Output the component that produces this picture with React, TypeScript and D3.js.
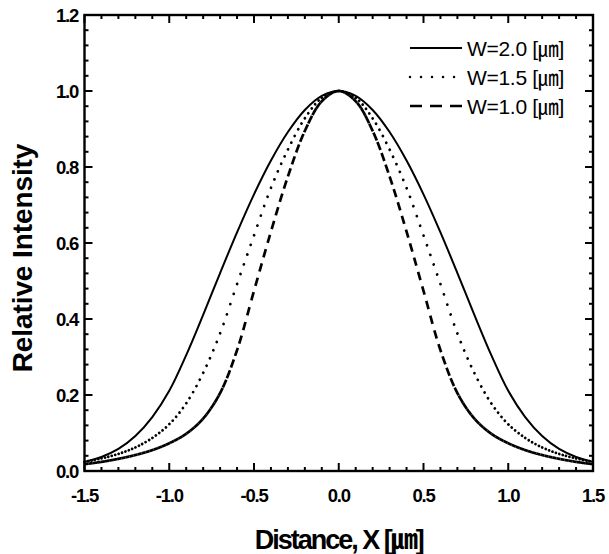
import React, { useEffect, useRef } from "react";
import * as d3 from "d3";

const xPositions = [
  -1.5, -1.4, -1.3, -1.2, -1.1, -1.0, -0.9, -0.8, -0.7, -0.6, -0.5, -0.4, -0.3, -0.2, -0.1,
  0.0, 0.1, 0.2, 0.3, 0.4, 0.5, 0.6, 0.7, 0.8, 0.9, 1.0, 1.1, 1.2, 1.3, 1.4, 1.5,
];
const w20 = [
  0.024, 0.037, 0.058, 0.092, 0.142, 0.211, 0.305, 0.411, 0.521, 0.628, 0.728, 0.817, 0.892, 0.95, 0.987,
  1.0, 0.987, 0.95, 0.892, 0.817, 0.728, 0.628, 0.521, 0.411, 0.305, 0.211, 0.142, 0.092, 0.058, 0.037, 0.024,
];
const w15 = [
  0.024, 0.033, 0.045, 0.062, 0.087, 0.123, 0.178, 0.258, 0.362, 0.492, 0.62, 0.745, 0.846, 0.928, 0.982,
  1.0, 0.982, 0.928, 0.846, 0.745, 0.62, 0.492, 0.362, 0.258, 0.178, 0.123, 0.087, 0.062, 0.045, 0.033, 0.024,
];
const w10 = [
  0.018, 0.024, 0.032, 0.042, 0.055, 0.073, 0.098, 0.138, 0.205, 0.318, 0.474, 0.63, 0.775, 0.895, 0.973,
  1.0, 0.973, 0.895, 0.775, 0.63, 0.474, 0.318, 0.205, 0.138, 0.098, 0.073, 0.055, 0.042, 0.032, 0.024, 0.018,
];
const xTicks = [-1.5, -1.0, -0.5, 0.0, 0.5, 1.0, 1.5];
const yTicks = [0.0, 0.2, 0.4, 0.6, 0.8, 1.0, 1.2];
const legendLabels = ["W=2.0 [\u339B]", "W=1.5 [\u339B]", "W=1.0 [\u339B]"];
const xTitle = "Distance, X [\u339B]";
const yTitle = "Relative Intensity";

const FONT = "'Liberation Sans', Arial, 'Noto Sans CJK JP', sans-serif";

export default function App() {
  const ref = useRef<SVGSVGElement>(null);

  useEffect(() => {
    const svg = d3.select(ref.current);
    svg.selectAll("*").remove();
    const L = 84.5, R = 593, T = 15, B = 471;
    const x = d3.scaleLinear().domain([-1.5, 1.5]).range([L, R]);
    const y = d3.scaleLinear().domain([0, 1.2]).range([B, T]);

    svg.append("rect").attr("width", 609).attr("height", 554).attr("fill", "#fff");

    const line = d3
      .line<number>()
      .x((_, i) => x(xPositions[i]))
      .y((d) => y(d))
      .curve(d3.curveCatmullRom.alpha(0.5));

    const plot = svg.append("g");

    plot
      .append("path")
      .attr("d", line(w20))
      .attr("fill", "none")
      .attr("stroke", "#000")
      .attr("stroke-width", 2);

    // dash pattern restarts at every sampled step, as in the original plotting software
    const drawSegmented = (vals: number[], dash: string, width: number, cap: string, step: number) => {
      const tmp = plot.append("path").attr("d", line(vals)).attr("fill", "none");
      const node = tmp.node() as SVGPathElement;
      const total = node.getTotalLength();
      const pts: [number, number][] = [];
      for (let s = 0; s <= total; s += 0.3) {
        const p = node.getPointAtLength(s);
        pts.push([p.x, p.y]);
      }
      const e = node.getPointAtLength(total);
      pts.push([e.x, e.y]);
      tmp.remove();
      const stepPx = x(step) - x(0);
      const segs: [number, number][][] = [];
      let cur: [number, number][] = [pts[0]];
      let nextX = pts[0][0] + stepPx;
      for (let i = 1; i < pts.length; i++) {
        cur.push(pts[i]);
        if (pts[i][0] >= nextX) {
          segs.push(cur);
          cur = [pts[i]];
          nextX += stepPx;
        }
      }
      if (cur.length > 1) segs.push(cur);
      const lg = d3.line();
      plot
        .append("g")
        .selectAll("path")
        .data(segs)
        .join("path")
        .attr("d", (d) => lg(d))
        .attr("fill", "none")
        .attr("stroke", "#000")
        .attr("stroke-width", width)
        .attr("stroke-linecap", cap)
        .attr("stroke-dasharray", dash);
    };
    drawSegmented(w15, "0.01,200", 2.8, "round", 0.02);
    drawSegmented(w10, "8.5,200", 2.7, "butt", 0.024);

    svg
      .append("rect")
      .attr("x", L)
      .attr("y", T)
      .attr("width", R - L)
      .attr("height", B - T)
      .attr("fill", "none")
      .attr("stroke", "#000")
      .attr("stroke-width", 2.4);

    const tg = svg.append("g").attr("stroke", "#000").attr("stroke-width", 2);
    const xMinor = d3.range(-15, 16).map((v) => v / 10);
    xMinor.forEach((v) => {
      const major = Math.abs(Math.round(v * 10) % 5) === 0;
      const len = major ? 8 : 4;
      tg.append("line").attr("x1", x(v)).attr("x2", x(v)).attr("y1", B).attr("y2", B - len);
      tg.append("line").attr("x1", x(v)).attr("x2", x(v)).attr("y1", T).attr("y2", T + len);
    });
    const yMinor = d3.range(0, 31).map((v) => v * 0.04);
    yMinor.forEach((v, i) => {
      const major = i % 5 === 0;
      const len = major ? 8 : 4;
      tg.append("line").attr("x1", L).attr("x2", L + len).attr("y1", y(v)).attr("y2", y(v));
      tg.append("line").attr("x1", R).attr("x2", R - len).attr("y1", y(v)).attr("y2", y(v));
    });

    svg
      .append("g")
      .selectAll("text")
      .data(xTicks)
      .join("text")
      .attr("x", (d) => x(d))
      .attr("y", 502)
      .attr("text-anchor", "middle")
      .attr("font-family", FONT)
      .attr("font-weight", "bold")
      .attr("font-size", 18.5)
      .attr("letter-spacing", -1.2)
      .text((d) => d.toFixed(1));
    svg
      .append("g")
      .selectAll("text")
      .data(yTicks)
      .join("text")
      .attr("x", 78)
      .attr("y", (d) => y(d) + 6.5)
      .attr("text-anchor", "end")
      .attr("font-family", FONT)
      .attr("font-weight", "bold")
      .attr("font-size", 18.5)
      .attr("letter-spacing", -1.2)
      .text((d) => d.toFixed(1));

    svg
      .append("text")
      .attr("x", x(0))
      .attr("y", 549)
      .attr("text-anchor", "middle")
      .attr("font-family", FONT)
      .attr("font-weight", "bold")
      .attr("font-size", 27)
      .attr("letter-spacing", -2)
      .text(xTitle);
    svg
      .append("text")
      .attr("transform", `translate(32,258) rotate(-90)`)
      .attr("text-anchor", "middle")
      .attr("font-family", FONT)
      .attr("font-weight", "bold")
      .attr("font-size", 28)
      .attr("letter-spacing", -0.1)
      .text(yTitle);

    const rows = [48, 77, 106];
    const lgG = svg.append("g");
    const styles = [
      { dash: null, w: 2, cap: "butt" },
      { dash: "0.01,11", w: 2.5, cap: "round" },
      { dash: "12,8", w: 2.4, cap: "butt" },
    ];
    rows.forEach((ry, i) => {
      const st = styles[i];
      const l = lgG
        .append("line")
        .attr("x1", 410)
        .attr("x2", 462)
        .attr("y1", ry)
        .attr("y2", ry)
        .attr("stroke", "#000")
        .attr("stroke-width", st.w)
        .attr("stroke-linecap", st.cap);
      if (st.dash) l.attr("stroke-dasharray", st.dash);
      lgG
        .append("text")
        .attr("x", 467)
        .attr("y", ry + 7.5)
        .attr("font-family", FONT)
        .attr("font-size", 21)
        .attr("letter-spacing", -0.3)
        .text(legendLabels[i]);
    });
  }, []);

  return (
    <svg
      ref={ref}
      width={609}
      height={554}
      style={{ position: "absolute", left: 0, top: 0, display: "block" }}
    />
  );
}
